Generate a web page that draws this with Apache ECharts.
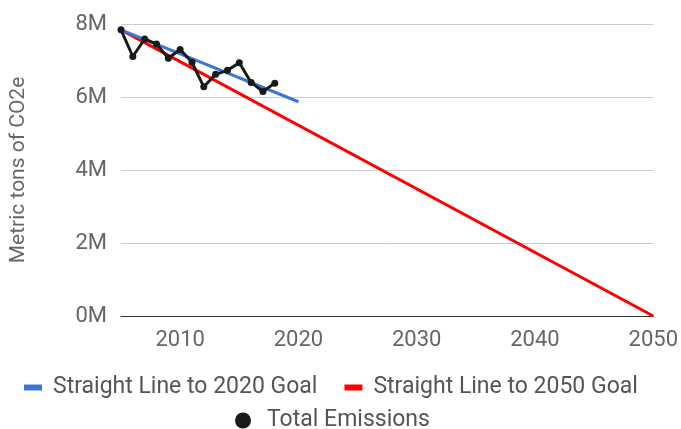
<!DOCTYPE html>
<html>
<head>
<meta charset="utf-8">
<script src="https://cdn.jsdelivr.net/npm/echarts@6/dist/echarts.min.js"></script>
<style>
  html, body { margin: 0; padding: 0; background: #fff; }
  #chart { width: 681px; height: 429px; }
</style>
</head>
<body>
<div id="chart"></div>
<script>
// Annual emissions (million metric tons CO2e)
const years = [2005, 2006, 2007, 2008, 2009, 2010, 2011, 2012, 2013, 2014, 2015, 2016, 2017, 2018];
const totalEmissions = [7.84, 7.11, 7.59, 7.45, 7.06, 7.30, 6.95, 6.28, 6.62, 6.73, 6.94, 6.40, 6.15, 6.38];

// Straight-line reduction targets: [year, value]
const goal2020 = [[2005, 7.84], [2020, 5.87]];
const goal2050 = [[2005, 7.84], [2050, 0]];

const xTicks = [2010, 2020, 2030, 2040, 2050];
const yTicks = [0, 2, 4, 6, 8];

const M = 1e6;
const font = 'Roboto';
const textColor = '#666666';

const chart = echarts.init(document.getElementById('chart'));
chart.setOption({
  animation: false,
  backgroundColor: '#ffffff',
  grid: { left: 121, right: 24, top: 24, bottom: 113, containLabel: false },
  xAxis: {
    type: 'value',
    min: years[0],
    max: 2050,
    axisLine: { show: true, lineStyle: { color: '#333333', width: 1 } },
    axisTick: { show: false },
    splitLine: { show: false },
    axisLabel: {
      customValues: xTicks,
      formatter: v => String(v),
      color: textColor,
      fontFamily: font,
      fontSize: 22,
      margin: 13
    }
  },
  yAxis: {
    type: 'value',
    min: yTicks[0] * M,
    max: yTicks[yTicks.length - 1] * M,
    interval: 2 * M,
    name: 'Metric tons of CO2e',
    nameLocation: 'middle',
    nameGap: 92,
    nameTextStyle: { color: textColor, fontFamily: font, fontSize: 21 },
    axisLine: { show: false },
    axisTick: { show: false },
    splitLine: { lineStyle: { color: '#cccccc', width: 1 } },
    axisLabel: {
      color: textColor,
      fontFamily: font,
      fontSize: 22,
      margin: 14,
      formatter: v => (v / M) + 'M'
    }
  },
  legend: [
    {
      data: ['Straight Line to 2020 Goal', 'Straight Line to 2050 Goal'],
      top: 371,
      left: 19,
      itemWidth: 18,
      itemHeight: 6,
      itemGap: 27,
      icon: 'rect',
      textStyle: { color: '#555555', fontFamily: font, fontSize: 23, padding: [0, 0, 0, 6] }
    },
    {
      data: [{ name: 'Total Emissions', icon: 'circle' }],
      top: 404,
      left: 230,
      itemWidth: 16,
      itemHeight: 16,
      textStyle: { color: '#555555', fontFamily: font, fontSize: 23, padding: [0, 0, 0, 11] }
    }
  ],
  series: [
    {
      name: 'Straight Line to 2020 Goal',
      type: 'line',
      data: goal2020.map(d => [d[0], d[1] * M]),
      symbol: 'none',
      lineStyle: { color: '#3d78d8', width: 3 },
      itemStyle: { color: '#3d78d8' },
      z: 2
    },
    {
      name: 'Straight Line to 2050 Goal',
      type: 'line',
      data: goal2050.map(d => [d[0], d[1] * M]),
      symbol: 'none',
      lineStyle: { color: '#ff0000', width: 3 },
      itemStyle: { color: '#ff0000' },
      z: 1
    },
    {
      name: 'Total Emissions',
      type: 'line',
      data: years.map((y, i) => [y, totalEmissions[i] * M]),
      symbol: 'circle',
      symbolSize: 7,
      showAllSymbol: true,
      lineStyle: { color: '#1a1a1a', width: 3 },
      itemStyle: { color: '#1a1a1a' },
      z: 3
    }
  ]
});
</script>
</body>
</html>
